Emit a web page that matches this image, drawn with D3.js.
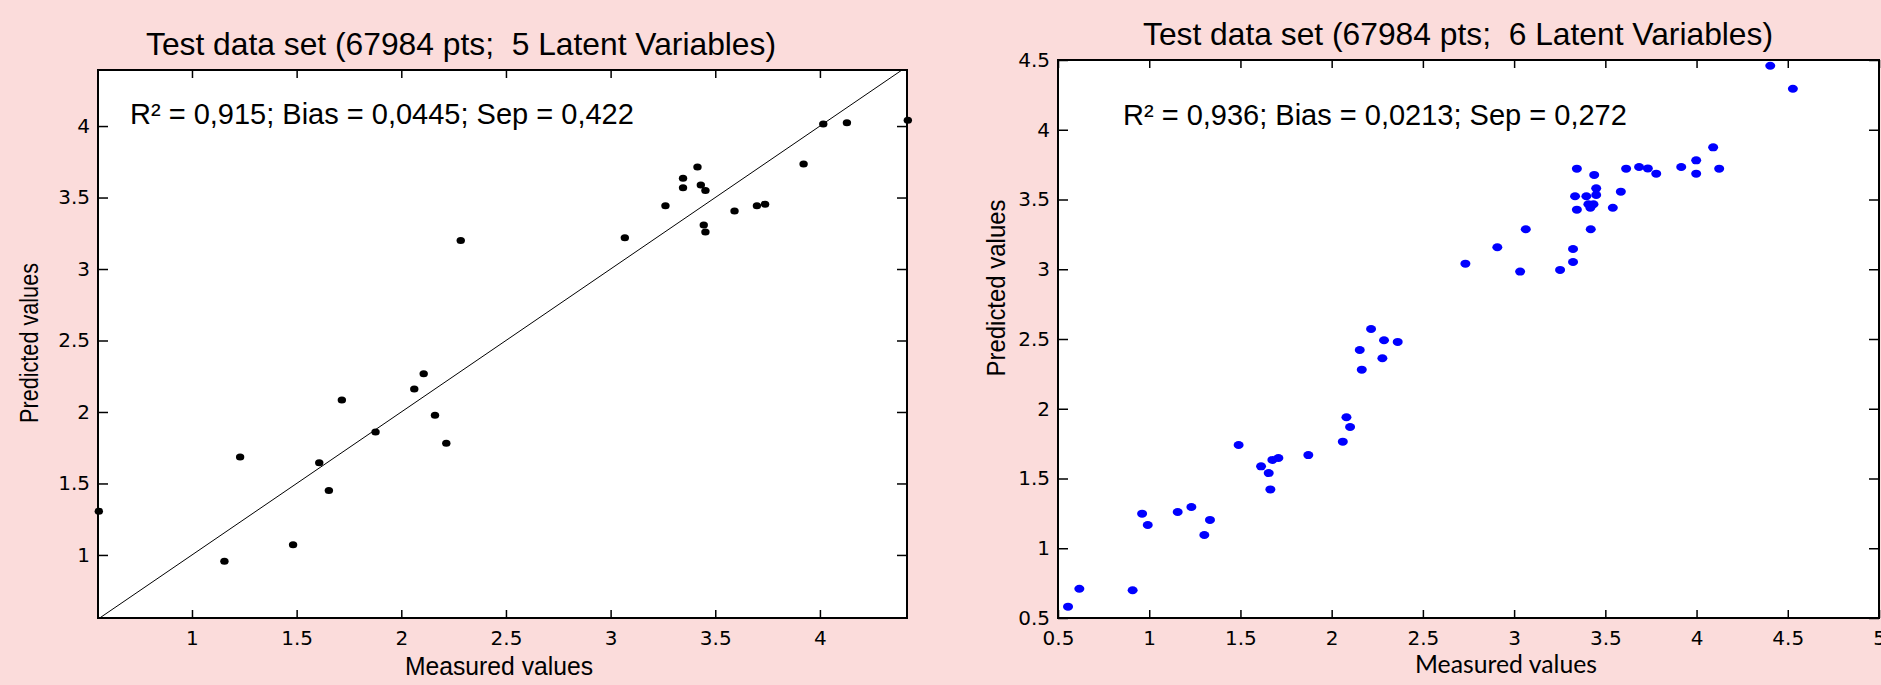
<!DOCTYPE html>
<html lang="en">
  <head>
    <meta charset="UTF-8" />
    <title>Test data set - predicted vs measured</title>
    <script src="https://d3js.org/d3.v7.min.js"></script>
    <style>
      body {
        margin: 0;
        background-color: #fbdcdb;
      }
      svg {
        display: block;
      }
      .tick text {
        font-family: "DejaVu Sans", sans-serif;
        font-size: 20px;
        fill: #000;
      }
      .tick line {
        stroke: #000;
        stroke-width: 1.5;
      }
    </style>
  </head>
  <body>
    <script>
      // left panel: 5 latent variables
      const leftMeasured = [
        4.42, 4.016, 4.129, 3.922, 3.415, 3.346, 3.346, 3.431, 3.453, 3.262,
        3.592, 3.699, 3.738, 3.445, 3.453, 3.068, 2.284, 2.107, 2.062, 1.716,
        2.161, 2.215, 1.877, 1.23, 1.608, 1.654, 0.555, 1.483, 1.155,
      ];
      const leftPredicted = [
        4.04, 4.014, 4.023, 3.734, 3.713, 3.635, 3.569, 3.587, 3.55, 3.443,
        3.406, 3.443, 3.453, 3.308, 3.259, 3.219, 3.2, 2.268, 2.161, 2.084,
        1.977, 1.781, 1.86, 1.685, 1.645, 1.45, 1.306, 1.072, 0.956,
      ];
      const leftXTicks = [1, 1.5, 2, 2.5, 3, 3.5, 4];
      const leftYTicks = [1, 1.5, 2, 2.5, 3, 3.5, 4];

      // right panel: 6 latent variables
      const rightMeasured = [
        2.216, 2.287, 2.362, 2.154, 2.278, 2.165,
        4.404, 4.528, 4.091, 3.998, 3.998, 4.124, 3.916, 3.779, 3.733, 3.685,
        3.614, 3.344, 3.439, 3.45, 3.45, 3.334, 3.396, 3.585, 3.407, 3.435,
        3.418, 3.344, 3.541, 3.42, 3.064, 2.908, 3.323, 3.323, 2.733, 3.033,
        3.252,
        2.081, 2.101, 2.061, 1.872, 1.708, 1.675, 1.613, 1.655, 1.664, 1.49,
        1.231, 1.156, 0.961, 0.992, 1.333, 1.302, 0.617, 0.909, 0.555,
      ];
      const rightPredicted = [
        2.572, 2.491, 2.479, 2.421, 2.362, 2.28,
        4.459, 4.294, 3.874, 3.781, 3.685, 3.721, 3.733, 3.685, 3.723, 3.733,
        3.721, 3.721, 3.676, 3.58, 3.532, 3.523, 3.523, 3.556, 3.466, 3.466,
        3.441, 3.427, 3.441, 3.287, 3.287, 3.158, 3.145, 3.052, 3.04, 2.983,
        2.995,
        1.939, 1.869, 1.764, 1.668, 1.647, 1.633, 1.587, 1.539, 1.422, 1.74,
        1.296, 1.26, 1.248, 1.167, 1.203, 1.095, 0.71, 0.699, 0.581,
      ];
      const rightXTicks = [0.5, 1, 1.5, 2, 2.5, 3, 3.5, 4, 4.5, 5];
      const rightYTicks = [0.5, 1, 1.5, 2, 2.5, 3, 3.5, 4, 4.5];

      const titles = [
        "Test data set (67984 pts;  5 Latent Variables)",
        "Test data set (67984 pts;  6 Latent Variables)",
      ];
      const stats = [
        "R\u00b2 = 0,915; Bias = 0,0445; Sep = 0,422",
        "R\u00b2 = 0,936; Bias = 0,0213; Sep = 0,272",
      ];

      const svg = d3
        .select("body")
        .append("svg")
        .attr("width", 1881)
        .attr("height", 685);

      svg
        .append("rect")
        .attr("width", 1881)
        .attr("height", 685)
        .attr("fill", "#fbdcdb");

      function drawPanel(cfg) {
        const x = d3.scaleLinear().domain(cfg.xDomain).range([cfg.left, cfg.right]);
        const y = d3.scaleLinear().domain(cfg.yDomain).range([cfg.bottom, cfg.top]);
        const g = svg.append("g");

        g.append("rect")
          .attr("x", cfg.left)
          .attr("y", cfg.top)
          .attr("width", cfg.right - cfg.left)
          .attr("height", cfg.bottom - cfg.top)
          .attr("fill", "#fff");

        const fmt = (d) => String(d);

        // bottom + left carry the labels, top + right only ticks
        g.append("g")
          .attr("transform", `translate(0,${cfg.bottom})`)
          .call(d3.axisBottom(x).tickValues(cfg.xTicks).tickFormat(fmt).tickSize(-8).tickPadding(13));
        g.append("g")
          .attr("transform", `translate(0,${cfg.top})`)
          .call(d3.axisTop(x).tickValues(cfg.xTicks).tickFormat("").tickSize(-8));
        g.append("g")
          .attr("transform", `translate(${cfg.left},0)`)
          .call(d3.axisLeft(y).tickValues(cfg.yTicks).tickFormat(fmt).tickSize(-10).tickPadding(8));
        g.append("g")
          .attr("transform", `translate(${cfg.right},0)`)
          .call(d3.axisRight(y).tickValues(cfg.yTicks).tickFormat("").tickSize(-10));

        g.selectAll(".domain").remove();

        g.append("rect")
          .attr("x", cfg.left)
          .attr("y", cfg.top)
          .attr("width", cfg.right - cfg.left)
          .attr("height", cfg.bottom - cfg.top)
          .attr("fill", "none")
          .attr("stroke", "#000")
          .attr("stroke-width", 2);

        if (cfg.diagonal) {
          const lo = Math.max(cfg.xDomain[0], cfg.yDomain[0]);
          const hi = Math.min(cfg.xDomain[1], cfg.yDomain[1]);
          g.append("line")
            .attr("x1", x(lo))
            .attr("y1", y(lo))
            .attr("x2", x(hi))
            .attr("y2", y(hi))
            .attr("stroke", "#000")
            .attr("stroke-width", 1);
        }

        g.selectAll("ellipse.pt")
          .data(d3.zip(cfg.measured, cfg.predicted))
          .join("ellipse")
          .attr("class", "pt")
          .attr("cx", (d) => x(d[0]))
          .attr("cy", (d) => y(d[1]))
          .attr("rx", cfg.rx)
          .attr("ry", cfg.ry)
          .attr("fill", cfg.color);

        // title (compressed like the original, keeps the double space)
        g.append("text")
          .attr("x", cfg.titleX)
          .attr("y", cfg.titleY)
          .attr("font-family", "Liberation Sans, Arial, sans-serif")
          .attr("font-size", 32)
          .attr("textLength", 630)
          .attr("lengthAdjust", "spacingAndGlyphs")
          .style("white-space", "pre")
          .text(cfg.title);

        g.append("text")
          .attr("x", cfg.statX)
          .attr("y", cfg.statY)
          .attr("font-family", "Liberation Sans, Arial, sans-serif")
          .attr("font-size", 29)
          .text(cfg.stat);

        g.append("text")
          .attr("x", cfg.xLabel[0])
          .attr("y", cfg.xLabel[1])
          .attr("text-anchor", "middle")
          .attr("font-family", cfg.labelFont)
          .attr("font-size", 25)
          .attr("textLength", cfg.xLabel[2])
          .attr("lengthAdjust", "spacingAndGlyphs")
          .text("Measured values");

        g.append("text")
          .attr("transform", `translate(${cfg.yLabel[0]},${cfg.yLabel[1]}) rotate(-90)`)
          .attr("text-anchor", "middle")
          .attr("font-family", "Liberation Sans, Arial, sans-serif")
          .attr("font-size", 25)
          .attr("textLength", cfg.yLabel[2])
          .attr("lengthAdjust", "spacingAndGlyphs")
          .text("Predicted values");
      }

      drawPanel({
        left: 98, right: 907, top: 70, bottom: 618,
        xDomain: [0.551, 4.416], yDomain: [0.559, 4.392],
        xTicks: leftXTicks, yTicks: leftYTicks,
        measured: leftMeasured, predicted: leftPredicted,
        color: "#000", rx: 4.2, ry: 3.5, diagonal: true,
        title: titles[0], titleX: 146, titleY: 55,
        stat: stats[0], statX: 130, statY: 124,
        xLabel: [499, 675, 188], labelFont: "Liberation Sans, Arial, sans-serif",
        yLabel: [38, 343, 160],
      });

      drawPanel({
        left: 1058, right: 1879, top: 60, bottom: 618,
        xDomain: [0.5, 5], yDomain: [0.5, 4.5],
        xTicks: rightXTicks, yTicks: rightYTicks,
        measured: rightMeasured, predicted: rightPredicted,
        color: "#0000ff", rx: 5, ry: 4, diagonal: false,
        title: titles[1], titleX: 1143, titleY: 45,
        stat: stats[1], statX: 1123, statY: 125,
        xLabel: [1506, 673, 182], labelFont: "Lato, Carlito, sans-serif",
        yLabel: [1005, 288, 177],
      });
    </script>
  </body>
</html>
